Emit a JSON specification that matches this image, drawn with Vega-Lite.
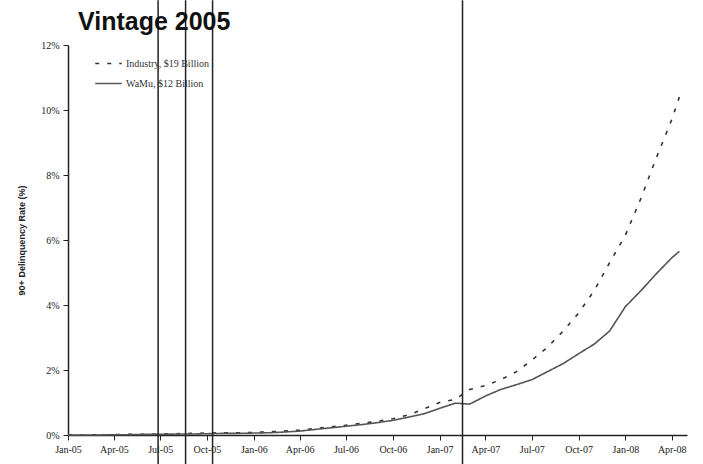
{
  "$schema": "https://vega.github.io/schema/vega-lite/v6.json",
  "width": 619,
  "height": 390,
  "autosize": {"type": "none"},
  "padding": {"left": 68, "top": 45, "right": 16, "bottom": 29},
  "background": "white",
  "title": {"text": "Vintage 2005", "anchor": "start", "frame": "group", "dx": 10, "offset": -36, "fontSize": 25, "font": "Liberation Sans", "fontWeight": "bold", "color": "#111"},
  "config": {"view": {"stroke": null}, "axis": {"grid": false, "domainColor": "#222", "tickColor": "#222", "labelColor": "#222", "titleColor": "#222"}},
  "datasets": {
    "series": [
      {"date": "2005-01-01", "series": "Industry", "rate": 0.0},
      {"date": "2005-02-01", "series": "Industry", "rate": 0.0},
      {"date": "2005-03-01", "series": "Industry", "rate": 0.01},
      {"date": "2005-04-01", "series": "Industry", "rate": 0.01},
      {"date": "2005-05-01", "series": "Industry", "rate": 0.02},
      {"date": "2005-06-01", "series": "Industry", "rate": 0.02},
      {"date": "2005-07-01", "series": "Industry", "rate": 0.03},
      {"date": "2005-08-01", "series": "Industry", "rate": 0.04},
      {"date": "2005-09-01", "series": "Industry", "rate": 0.05},
      {"date": "2005-10-01", "series": "Industry", "rate": 0.06},
      {"date": "2005-11-01", "series": "Industry", "rate": 0.07},
      {"date": "2005-12-01", "series": "Industry", "rate": 0.07},
      {"date": "2006-01-01", "series": "Industry", "rate": 0.08},
      {"date": "2006-02-01", "series": "Industry", "rate": 0.1},
      {"date": "2006-03-01", "series": "Industry", "rate": 0.12},
      {"date": "2006-04-01", "series": "Industry", "rate": 0.15},
      {"date": "2006-05-01", "series": "Industry", "rate": 0.2},
      {"date": "2006-06-01", "series": "Industry", "rate": 0.25},
      {"date": "2006-07-01", "series": "Industry", "rate": 0.3},
      {"date": "2006-08-01", "series": "Industry", "rate": 0.36},
      {"date": "2006-09-01", "series": "Industry", "rate": 0.42},
      {"date": "2006-10-01", "series": "Industry", "rate": 0.5},
      {"date": "2006-11-01", "series": "Industry", "rate": 0.62},
      {"date": "2006-12-01", "series": "Industry", "rate": 0.8},
      {"date": "2007-01-01", "series": "Industry", "rate": 1.0},
      {"date": "2007-02-01", "series": "Industry", "rate": 1.1},
      {"date": "2007-03-01", "series": "Industry", "rate": 1.4},
      {"date": "2007-04-01", "series": "Industry", "rate": 1.52},
      {"date": "2007-05-01", "series": "Industry", "rate": 1.7},
      {"date": "2007-06-01", "series": "Industry", "rate": 1.95},
      {"date": "2007-07-01", "series": "Industry", "rate": 2.3},
      {"date": "2007-08-01", "series": "Industry", "rate": 2.7},
      {"date": "2007-09-01", "series": "Industry", "rate": 3.2},
      {"date": "2007-10-01", "series": "Industry", "rate": 3.75},
      {"date": "2007-11-01", "series": "Industry", "rate": 4.45},
      {"date": "2007-12-01", "series": "Industry", "rate": 5.3},
      {"date": "2008-01-01", "series": "Industry", "rate": 6.15},
      {"date": "2008-02-01", "series": "Industry", "rate": 7.3},
      {"date": "2008-03-01", "series": "Industry", "rate": 8.5},
      {"date": "2008-04-01", "series": "Industry", "rate": 9.7},
      {"date": "2008-04-16", "series": "Industry", "rate": 10.4},
      {"date": "2005-01-01", "series": "WaMu", "rate": 0.0},
      {"date": "2005-02-01", "series": "WaMu", "rate": 0.0},
      {"date": "2005-03-01", "series": "WaMu", "rate": 0.0},
      {"date": "2005-04-01", "series": "WaMu", "rate": 0.01},
      {"date": "2005-05-01", "series": "WaMu", "rate": 0.01},
      {"date": "2005-06-01", "series": "WaMu", "rate": 0.02},
      {"date": "2005-07-01", "series": "WaMu", "rate": 0.02},
      {"date": "2005-08-01", "series": "WaMu", "rate": 0.03},
      {"date": "2005-09-01", "series": "WaMu", "rate": 0.03},
      {"date": "2005-10-01", "series": "WaMu", "rate": 0.04},
      {"date": "2005-11-01", "series": "WaMu", "rate": 0.05},
      {"date": "2005-12-01", "series": "WaMu", "rate": 0.05},
      {"date": "2006-01-01", "series": "WaMu", "rate": 0.06},
      {"date": "2006-02-01", "series": "WaMu", "rate": 0.07},
      {"date": "2006-03-01", "series": "WaMu", "rate": 0.09},
      {"date": "2006-04-01", "series": "WaMu", "rate": 0.12},
      {"date": "2006-05-01", "series": "WaMu", "rate": 0.17},
      {"date": "2006-06-01", "series": "WaMu", "rate": 0.22},
      {"date": "2006-07-01", "series": "WaMu", "rate": 0.27},
      {"date": "2006-08-01", "series": "WaMu", "rate": 0.32},
      {"date": "2006-09-01", "series": "WaMu", "rate": 0.38},
      {"date": "2006-10-01", "series": "WaMu", "rate": 0.45},
      {"date": "2006-11-01", "series": "WaMu", "rate": 0.55},
      {"date": "2006-12-01", "series": "WaMu", "rate": 0.65},
      {"date": "2007-01-01", "series": "WaMu", "rate": 0.82},
      {"date": "2007-02-01", "series": "WaMu", "rate": 0.98},
      {"date": "2007-03-01", "series": "WaMu", "rate": 0.95},
      {"date": "2007-04-01", "series": "WaMu", "rate": 1.2},
      {"date": "2007-05-01", "series": "WaMu", "rate": 1.4},
      {"date": "2007-06-01", "series": "WaMu", "rate": 1.55},
      {"date": "2007-07-01", "series": "WaMu", "rate": 1.7},
      {"date": "2007-08-01", "series": "WaMu", "rate": 1.95},
      {"date": "2007-09-01", "series": "WaMu", "rate": 2.2},
      {"date": "2007-10-01", "series": "WaMu", "rate": 2.5},
      {"date": "2007-11-01", "series": "WaMu", "rate": 2.8},
      {"date": "2007-12-01", "series": "WaMu", "rate": 3.2},
      {"date": "2008-01-01", "series": "WaMu", "rate": 3.95},
      {"date": "2008-02-01", "series": "WaMu", "rate": 4.45},
      {"date": "2008-03-01", "series": "WaMu", "rate": 4.95},
      {"date": "2008-04-01", "series": "WaMu", "rate": 5.45},
      {"date": "2008-04-16", "series": "WaMu", "rate": 5.65}
    ],
    "marks": [
      {"date": "2005-06-27", "top": 13.38, "bottom": -0.9},
      {"date": "2005-08-20", "top": 13.38, "bottom": -0.9},
      {"date": "2005-10-12", "top": 13.38, "bottom": -0.9},
      {"date": "2007-02-15", "top": 13.38, "bottom": -0.9}
    ]
  },
  "layer": [
    {
      "data": {"name": "series"},
      "mark": {"type": "line", "strokeWidth": 1.6, "clip": false},
      "encoding": {
        "x": {
          "field": "date", "type": "temporal",
          "scale": {"domain": ["2005-01-01", "2008-05-01"]},
          "axis": {
            "title": null, "format": "%b-%y",
            "values": [
              {"year": 2005, "month": 1, "date": 1}, {"year": 2005, "month": 4, "date": 1}, {"year": 2005, "month": 7, "date": 1}, {"year": 2005, "month": 10, "date": 1},
              {"year": 2006, "month": 1, "date": 1}, {"year": 2006, "month": 4, "date": 1}, {"year": 2006, "month": 7, "date": 1}, {"year": 2006, "month": 10, "date": 1},
              {"year": 2007, "month": 1, "date": 1}, {"year": 2007, "month": 4, "date": 1}, {"year": 2007, "month": 7, "date": 1}, {"year": 2007, "month": 10, "date": 1},
              {"year": 2008, "month": 1, "date": 1}, {"year": 2008, "month": 4, "date": 1}
            ],
            "labelFont": "Liberation Serif", "labelFontSize": 10, "labelPadding": 4, "tickSize": 5, "domainWidth": 1.5, "labelFlush": false
          }
        },
        "y": {
          "field": "rate", "type": "quantitative",
          "scale": {"domain": [0, 12]},
          "axis": {
            "title": "90+ Delinquency Rate (%)", "values": [0, 2, 4, 6, 8, 10, 12],
            "labelExpr": "datum.value + '%'",
            "labelFont": "Liberation Serif", "labelFontSize": 10, "labelPadding": 4, "tickSize": 5, "domainWidth": 1.5,
            "titleFont": "Liberation Sans", "titleFontSize": 9, "titleFontWeight": "bold", "titlePadding": 14
          }
        },
        "stroke": {
          "field": "series", "type": "nominal",
          "scale": {"domain": ["Industry", "WaMu"], "range": ["#333333", "#555555"]},
          "legend": {
            "title": null, "orient": "none", "legendX": 26, "legendY": 4,
            "symbolType": "stroke", "symbolSize": 700, "symbolStrokeWidth": 1.6,
            "labelFont": "Liberation Serif", "labelFontSize": 10, "labelColor": "#333", "rowPadding": -10, "labelOffset": 3,
            "labelExpr": "datum.label == 'Industry' ? 'Industry, $19 Billion' : 'WaMu, $12 Billion'"
          }
        },
        "strokeDash": {
          "field": "series", "type": "nominal",
          "scale": {"domain": ["Industry", "WaMu"], "range": [[4, 8], [1, 0]]},
          "legend": {
            "title": null, "orient": "none", "legendX": 26, "legendY": 4,
            "symbolType": "stroke", "symbolSize": 700, "symbolStrokeWidth": 1.6,
            "labelFont": "Liberation Serif", "labelFontSize": 10, "labelColor": "#333", "rowPadding": -10, "labelOffset": 3,
            "labelExpr": "datum.label == 'Industry' ? 'Industry, $19 Billion' : 'WaMu, $12 Billion'"
          }
        }
      }
    },
    {
      "data": {"name": "marks"},
      "mark": {"type": "rule", "color": "#222", "strokeWidth": 1.5, "clip": false},
      "encoding": {
        "x": {"field": "date", "type": "temporal"},
        "y": {"field": "top", "type": "quantitative"},
        "y2": {"field": "bottom"}
      }
    }
  ]
}
